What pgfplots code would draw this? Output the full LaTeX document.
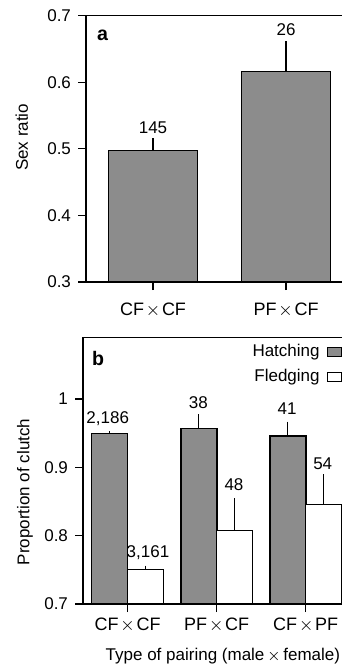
\documentclass[border=0pt]{standalone}
\usepackage{pgfplots}
\pgfplotsset{compat=1.18}
\usepackage{fontspec}
\setmainfont{Liberation Sans}
\definecolor{barg}{RGB}{140,140,140}
\newcommand{\fs}{\fontsize{8.5}{10}\selectfont}
\newcommand{\fx}{\fontsize{9}{10}\selectfont}
\newcommand{\tx}{\kern0.1em$\times$\kern0.1em}
\begin{document}
\begin{tikzpicture}[font=\fs]
\pgfplotsset{
  common/.style={
    scale only axis,
    axis line style={line width=0.75pt},
    tick style={line width=0.6pt, black},
    major tick length=4pt,
    tick align=outside,
    xtick pos=left, ytick pos=left,
    tick label style={font=\fs},
    xticklabel style={font=\fx, anchor=base},
    /pgf/number format/assume math mode=true,
  },
  errs/.style={error bars/.cd, y dir=plus, y explicit, error mark=none,
    error bar style={line width=0.55pt, black}},
}
% ---------------- panel a ----------------
\begin{axis}[common, at={(43pt,-141pt)}, anchor=south west,
  width=129pt, height=133.15pt,
  xmin=-0.5038, xmax=1.436, ymin=0.3, ymax=0.7,
  xtick={0,1}, xticklabels={CF\tx CF, PF\tx CF},
  xticklabel style={yshift=-12.5pt},
  ytick={0.3,0.4,0.5,0.6,0.7}, yticklabels={0.3,0.4,0.5,0.6,0.7},
  ylabel={Sex ratio},
  ylabel style={at={(axis description cs:0,0.543)}, anchor=center, yshift=32.15pt},
]
\addplot[ybar, bar width=44.5pt, bar shift=0pt, fill=barg, draw=black, line width=0.6pt, errs]
  coordinates {(0,0.4977) +- (0,0.018) (1,0.616) +- (0,0.046)};
\node[anchor=base] at (axis cs:0,0.5233) {145};
\node[anchor=base] at (axis cs:1,0.6698) {26};
\end{axis}
% ---------------- panel b ----------------
\begin{axis}[common, at={(41.5pt,-302pt)}, anchor=south west,
  width=130.5pt, height=133.35pt,
  xmin=-0.502, xmax=2.430, ymin=0.7, ymax=1.0903,
  xtick={0,1,2}, xticklabels={CF\tx CF, PF\tx CF, CF\tx PF},
  xticklabel style={yshift=-9.1pt},
  ytick={0.7,0.8,0.9,1}, yticklabels={0.7,0.8,0.9,1},
  ylabel={Proportion of clutch},
  ylabel style={at={(axis description cs:0,0.42)}, anchor=center, yshift=29pt},
  xlabel={Type of pairing (male\,$\times$\,female)},
  xlabel style={at={(axis description cs:0.536,0)}, anchor=base, yshift=-28pt},
]
\addplot[ybar, bar width=18pt, bar shift=0pt, fill=barg, draw=black, line width=0.6pt, errs]
  coordinates {(-0.2,0.949) +- (0,0.004) (0.8,0.957) +- (0,0.021) (1.8,0.946) +- (0,0.021)};
\addplot[ybar, bar width=18pt, bar shift=0pt, fill=white, draw=black, line width=0.6pt, errs]
  coordinates {(0.2,0.750) +- (0,0.006) (1.2,0.808) +- (0,0.047) (2.2,0.846) +- (0,0.044)};
\node[anchor=base] at (axis cs:-0.224,0.9646) {2,186};
\node[anchor=base] at (axis cs:0.228,0.7678) {3,161};
\node[anchor=base] at (axis cs:0.793,0.9855) {38};
\node[anchor=base] at (axis cs:1.194,0.8659) {48};
\node[anchor=base] at (axis cs:1.79,0.9767) {41};
\node[anchor=base] at (axis cs:2.191,0.8972) {54};
\end{axis}
% panel letters
\node[anchor=base west, inner sep=0pt, font=\fontsize{9.8}{11}\selectfont\bfseries] at (48.35pt,-20.35pt) {a};
\node[anchor=base west, inner sep=0pt, font=\fontsize{9.8}{11}\selectfont\bfseries] at (45.85pt,-182.5pt) {b};
% legend
\node[anchor=base east, inner sep=0pt] at (160pt,-178.35pt) {Hatching};
\draw[fill=barg, line width=0.5pt] (163.5pt,-173.7pt) rectangle (170.5pt,-178pt);
\node[anchor=base east, inner sep=0pt] at (160pt,-190.85pt) {Fledging};
\draw[fill=white, line width=0.5pt] (163.5pt,-186.2pt) rectangle (170.5pt,-190.85pt);
\pgfresetboundingbox
\useasboundingbox (0pt,0pt) rectangle (171pt,-332pt);
\end{tikzpicture}
\end{document}
